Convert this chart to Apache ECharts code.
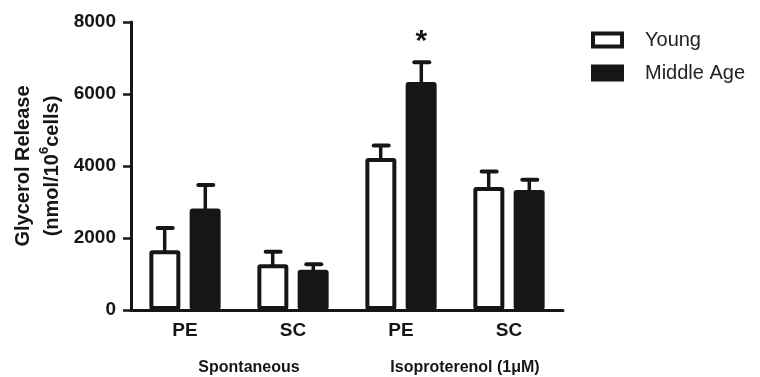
<!DOCTYPE html>
<html>
<head>
<meta charset="utf-8">
<script src="https://cdn.jsdelivr.net/npm/echarts@6/dist/echarts.min.js"></script>
<style>
html,body{margin:0;padding:0;background:#fff;}
#chart{width:760px;height:377px;}
</style>
</head>
<body>
<div id="chart"></div>
<script>
// ---- data ----
const categories = ['PE', 'SC', 'PE', 'SC'];
const groups = ['Spontaneous', 'Isoproterenol (1\u03bcM)'];
const seriesNames = ['Young', 'Middle Age'];
const youngMean = [1660, 1270, 4220, 3420];
const youngSem = [620, 350, 350, 430];
const middleMean = [2820, 1120, 6330, 3330];
const middleSem = [650, 150, 550, 290];
const middleMarks = ['', '', '*', ''];
const yMin = 0, yMax = 8000, yStep = 2000;

const FONT = '"Liberation Sans", Arial, Helvetica, sans-serif';
const INK = '#161616';

function errData(mean, sem, marks) {
  return mean.map((m, i) => [i, m + sem[i], m, marks ? marks[i] : '']);
}

function errRender(side) {
  return function (params, api) {
    const i = api.value(0);
    const top = api.coord([i, api.value(1)]);
    const base = api.coord([i, api.value(2)]);
    const band = api.size([1, 0])[0];
    const x = top[0] + side * band * 0.188;
    const children = [
      { type: 'line', shape: { x1: x, y1: base[1] + 2, x2: x, y2: top[1] },
        style: { stroke: INK, lineWidth: 3.5 } },
      { type: 'line', shape: { x1: x - 7, y1: top[1], x2: x + 8, y2: top[1] },
        style: { stroke: INK, lineWidth: 4, lineCap: 'round' } }
    ];
    const mark = api.value(3);
    if (mark) {
      children.push({ type: 'text', x: x, y: top[1] - 6,
        style: { text: mark, fill: INK, font: 'bold 30px ' + FONT, align: 'center', verticalAlign: 'bottom' } });
    }
    return { type: 'group', children: children };
  };
}

const chart = echarts.init(document.getElementById('chart'), null, { renderer: 'canvas' });
chart.setOption({
  animation: false,
  backgroundColor: '#fff',
  grid: { left: 131, right: 197, top: 22, bottom: 67, containLabel: false, outerBoundsMode: 'none' },
  legend: {
    orient: 'vertical', left: 586, top: 25, itemWidth: 29, itemHeight: 13, itemGap: 13,
    textStyle: { fontSize: 20, color: '#222', fontFamily: FONT, padding: [0, 0, 0, 18] },
    data: [
      { name: seriesNames[0], icon: 'rect', itemStyle: { color: '#fff', borderColor: INK, borderWidth: 4 } },
      { name: seriesNames[1], icon: 'rect', itemStyle: { color: INK, borderColor: INK, borderWidth: 4 } }
    ]
  },
  xAxis: [
    {
      type: 'category', data: categories, position: 'bottom',
      axisLine: { lineStyle: { color: INK, width: 3 } },
      axisTick: { alignWithLabel: true, length: 7, lineStyle: { color: INK, width: 2.5 } },
      axisLabel: { fontSize: 19, fontWeight: 'bold', color: INK, fontFamily: FONT, margin: 11 }
    },
    {
      type: 'category', data: groups, position: 'bottom', gridIndex: 0,
      axisLine: { show: false }, axisTick: { show: false },
      axisLabel: { fontSize: 16, fontWeight: 'bold', color: INK, fontFamily: FONT, margin: 50, padding: [0, 0, 0, 20] }
    }
  ],
  yAxis: {
    type: 'value', min: yMin, max: yMax, interval: yStep,
    name: '{a|Glycerol Release}\n{a|(nmol/10}{s|6}{a|cells)}',
    nameLocation: 'middle', nameRotate: 90, nameGap: 64, nameMoveOverlap: false,
    nameTextStyle: {
      color: INK, fontFamily: FONT, fontWeight: 'bold', lineHeight: 29,
      rich: {
        a: { fontSize: 20, fontWeight: 'bold', color: INK, fontFamily: FONT, lineHeight: 29 },
        s: { fontSize: 13, fontWeight: 'bold', color: INK, fontFamily: FONT, verticalAlign: 'top', lineHeight: 29, padding: [0, 0, 8, 0] }
      }
    },
    splitLine: { show: false },
    axisLine: { show: true, lineStyle: { color: INK, width: 3 } },
    axisTick: { show: true, length: 8, lineStyle: { color: INK, width: 2.5 } },
    axisLabel: { fontSize: 19, fontWeight: 'bold', color: INK, fontFamily: FONT, margin: 15,
      formatter: v => String(v) }
  },
  series: [
    {
      name: seriesNames[0], type: 'bar', data: youngMean, barWidth: 31, barGap: '30%',
      itemStyle: { color: '#fff', borderColor: INK, borderWidth: 4, borderRadius: 1 }, z: 3
    },
    {
      name: seriesNames[1], type: 'bar', data: middleMean, barWidth: 31,
      itemStyle: { color: INK, borderColor: INK, borderWidth: 4, borderRadius: 1 }, z: 3
    },
    {
      name: 'youngErr', type: 'custom', renderItem: errRender(-1),
      data: errData(youngMean, youngSem), z: 2, silent: true
    },
    {
      name: 'middleErr', type: 'custom', renderItem: errRender(1),
      data: errData(middleMean, middleSem, middleMarks), z: 2, silent: true
    }
  ]
});
</script>
</body>
</html>
